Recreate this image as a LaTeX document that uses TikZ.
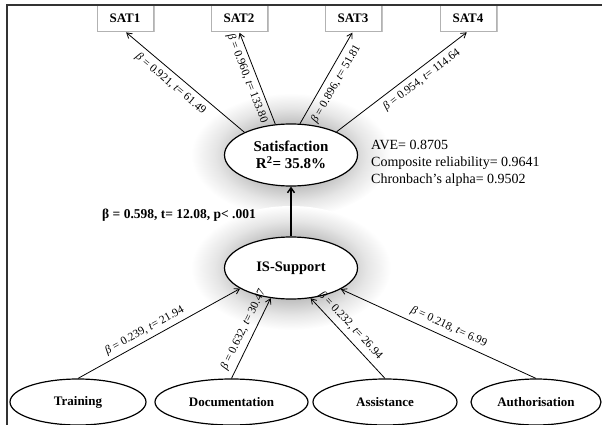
\documentclass[tikz,border=0pt]{standalone}
\usepackage{fontspec}
\setmainfont{Liberation Serif}
\usetikzlibrary{shapes.geometric,arrows.meta,shadows}

% soft grey halo laid under the two central constructs
\pgfdeclareradialshading{halo}{\pgfpoint{0bp}{0bp}}{%
  color(0bp)=(black!24); color(13bp)=(black!24);
  color(19bp)=(black!10); color(25bp)=(white); color(50bp)=(white)}

\begin{document}
\begin{tikzpicture}[x=1pt,y=-1pt,
  construct/.style={ellipse, draw, line width=1.2pt, fill=white, inner sep=0pt,
    minimum width=133pt, minimum height=62pt, align=center,
    font=\bfseries\fontsize{15}{17}\selectfont},
  factor/.style={ellipse, draw, line width=1.2pt, fill=white, inner sep=0pt,
    minimum height=46pt, font=\bfseries\fontsize{13}{15}\selectfont},
  indicator/.style={rectangle, draw=black!30, line width=0.8pt, fill=white,
    minimum width=56pt, minimum height=26pt, inner sep=0pt,
    font=\bfseries\fontsize{13}{15}\selectfont,
    drop shadow={shadow xshift=1.5pt, shadow yshift=-1.5pt, fill=black!40, opacity=0.6}},
  link/.style={line width=0.8pt, -{Straight Barb[length=5pt,width=6pt]}},
  coef/.style={sloped, inner sep=5pt, font=\fontsize{11.5}{13}\selectfont},
]
\useasboundingbox (0,0) rectangle (602,425);

% halos
\shade[shading=halo] (291,155) ellipse (100 and 62);
\shade[shading=halo] (291,268) ellipse (100 and 62);

% constructs
\node[construct] (sat) at (291,155) {Satisfaction\\R\textsuperscript{2}= 35.8\%};
\node[construct, font=\bfseries\fontsize{14.5}{16}\selectfont] (issup) at (291,268) {IS-Support};

% indicators
\node[indicator] (sat1) at (125,18) {SAT1};
\node[indicator] (sat2) at (239,18) {SAT2};
\node[indicator] (sat3) at (353,18) {SAT3};
\node[indicator] (sat4) at (468,18) {SAT4};

% antecedents
\node[factor, minimum width=136pt] (train)  at (78,402)    {Training};
\node[factor, minimum width=153pt] (doc)    at (231.5,402) {Documentation};
\node[factor, minimum width=144pt] (assist) at (385,402)   {Assistance};
\node[factor, minimum width=130pt] (auth)   at (536,402)   {Authorisation};

% loadings
\draw[link, shorten >=1.5pt] (sat.154) -- node[coef, pos=0.56, below] {\textit{β} = 0.921, \textit{t}= 61.49} (sat1.south);
\draw[link, shorten >=1.5pt] (sat.117) -- node[coef, pos=0.53, below, inner sep=4pt] {\textit{β} = 0.960, \textit{t}= 133.80} (sat2.south);
\draw[link, shorten >=1.5pt] (sat.74)  -- node[coef, pos=0.49, below, inner sep=6pt] {\textit{β} = 0.896, \textit{t}= 51.81} (sat3.south);
\draw[link, shorten >=1.5pt] (sat.27)  -- node[coef, pos=0.60, below] {\textit{β} = 0.954, \textit{t}= 114.64} (sat4.south);

% paths into IS-Support
\draw[link] (train.north)  -- node[coef, pos=0.44, above, inner sep=4pt] {\textit{β} = 0.239, \textit{t}= 21.94} (issup.202.6);
\draw[link] (doc.north)    -- node[coef, pos=0.55, above] {\textit{β} = 0.632, \textit{t}= 30.47} (issup.236.8);
\draw[link] (assist.north) -- node[coef, pos=0.57, above] {\textit{β} = 0.232, \textit{t}= 26.94} (issup.303.2);
\draw[link] (auth.north)   -- node[coef, pos=0.47, above] {\textit{β} = 0.218, \textit{t}= 6.99} (issup.337.4);

% structural path
\draw[line width=1.4pt, -{Straight Barb[length=5pt,width=7pt]}] (issup) -- (sat);
\node[font=\bfseries\fontsize{13.5}{15}\selectfont] (pathcoef) at (179,215) {β = 0.598, t= 12.08, p< .001};

% reliability figures
\node[anchor=west, align=left, inner sep=0pt, font=\fontsize{14}{17}\selectfont] (quality) at (371,163)
  {AVE= 0.8705\\Composite reliability= 0.9641\\Chronbach’s alpha= 0.9502};

% frame
\draw[line width=1.3pt, black!80] (7,425) -- (7,5) -- (602,5);
\end{tikzpicture}
\end{document}
